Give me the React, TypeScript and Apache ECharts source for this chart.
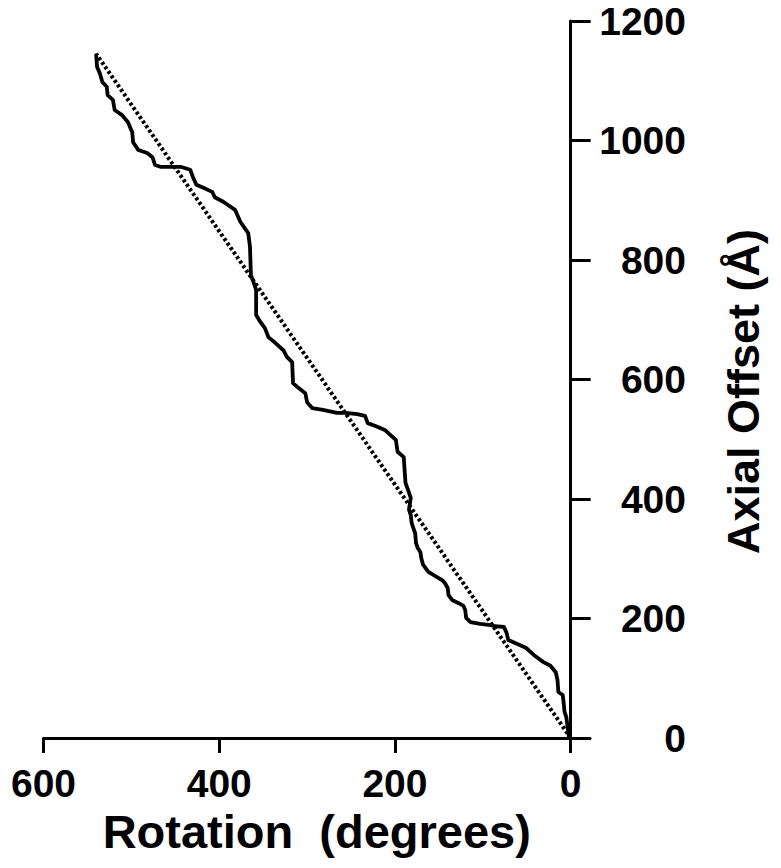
import React, { useEffect, useRef } from "react";
import * as echarts from "echarts";

// Measured curve (rotation in degrees, axial offset in Å)
const rotationDeg = [
  540, 539, 536, 533, 528, 527, 521, 519, 511, 504, 499, 498, 492, 482, 476, 473, 467, 456, 444, 433,
  430, 426, 418, 408, 405, 395, 382, 376, 367, 365, 364, 364, 361, 358, 358, 353, 348, 344, 336, 327,
  323, 317, 316, 310, 302, 300, 294, 282, 266, 256, 243, 234, 231, 220, 211, 199, 197, 190, 188, 185,
  182, 184, 182, 181, 179, 177, 176, 174, 171, 170, 168, 162, 154, 146, 143, 140, 139, 135, 128, 122,
  120, 119, 114, 103, 91, 86, 76, 73, 71, 60, 51, 42, 31, 23, 17, 15, 14, 9, 8, 7, 5, 3, 2, 0,
];
const axialOffset = [
  1143, 1123, 1113, 1098, 1090, 1076, 1068, 1051, 1043, 1031, 1014, 997, 984, 979, 972, 959, 956, 956, 956, 951,
  939, 926, 921, 914, 905, 897, 884, 864, 845, 822, 778, 775, 763, 750, 708, 696, 686, 671, 661, 649,
  638, 629, 594, 586, 577, 562, 552, 549, 544, 544, 542, 539, 527, 521, 515, 499, 479, 470, 427, 415,
  402, 382, 373, 360, 351, 343, 326, 318, 311, 301, 290, 278, 271, 264, 259, 251, 239, 231, 226, 221,
  214, 201, 194, 191, 189, 187, 186, 176, 164, 157, 151, 139, 127, 121, 110, 97, 77, 72, 59, 44, 35, 13, 2, 0,
];

// Straight reference (dotted) line
const fitRotation = [0, 540];
const fitOffset = [0, 1145];

const xTicks = [0, 200, 400, 600];
const yTicks = [0, 200, 400, 600, 800, 1000, 1200];

const FONT = "'Liberation Sans', Arial, Helvetica, sans-serif";

export default function App() {
  const ref = useRef<HTMLDivElement>(null);
  useEffect(() => {
    if (!ref.current) return;
    const chart = echarts.init(ref.current, null, { renderer: "svg" });
    const curve = rotationDeg.map((r, i) => [r, axialOffset[i]]);
    const fit = fitRotation.map((r, i) => [r, fitOffset[i]]);
    chart.setOption({
      animation: false,
      backgroundColor: "#ffffff",
      grid: { left: 43.5, right: 191, top: 21, bottom: 130, containLabel: false },
      xAxis: {
        type: "value",
        inverse: true,
        min: -22,
        max: 600,
        name: "Rotation  (degrees)",
        nameLocation: "middle",
        nameGap: 60,
        nameTextStyle: { fontFamily: FONT, fontWeight: "bold", fontSize: 47, color: "#000" },
        axisLine: { onZero: true, lineStyle: { color: "#000", width: 3 } },
        axisTick: { show: true, length: 15, lineStyle: { color: "#000", width: 3 }, customValues: xTicks },
        axisLabel: {
          customValues: xTicks,
          margin: 26,
          fontFamily: FONT,
          fontWeight: "bold",
          fontSize: 39,
          color: "#000",
          formatter: (v: number) => String(v),
        },
        splitLine: { show: false },
      },
      yAxis: {
        type: "value",
        position: "right",
        min: 0,
        max: 1200,
        interval: 200,
        name: "Axial Offset (Å)",
        nameLocation: "middle",
        nameGap: 131,
        nameTextStyle: {
          fontFamily: FONT,
          fontWeight: "bold",
          fontSize: 45,
          color: "#000",
          padding: [0, 24, 0, 0],
        },
        axisLine: { onZero: true, lineStyle: { color: "#000", width: 3 } },
        axisTick: { show: true, length: 20, lineStyle: { color: "#000", width: 3 } },
        axisLabel: {
          margin: 96,
          align: "right",
          fontFamily: FONT,
          fontWeight: "bold",
          fontSize: 39,
          color: "#000",
          customValues: yTicks,
          formatter: (v: number) => String(v),
        },
        splitLine: { show: false },
      },
      series: [
        {
          type: "line",
          data: fit,
          showSymbol: false,
          symbol: "none",
          lineStyle: { color: "#000", width: 4, type: [3, 2.5] },
          z: 2,
        },
        {
          type: "line",
          data: curve,
          showSymbol: false,
          symbol: "none",
          lineStyle: { color: "#000", width: 3.8, join: "round", cap: "round" },
          z: 3,
        },
      ],
    });
    return () => chart.dispose();
  }, []);
  return (
    <div
      ref={ref}
      style={{ position: "fixed", left: 0, top: 0, width: 781, height: 868, background: "#fff" }}
    />
  );
}
